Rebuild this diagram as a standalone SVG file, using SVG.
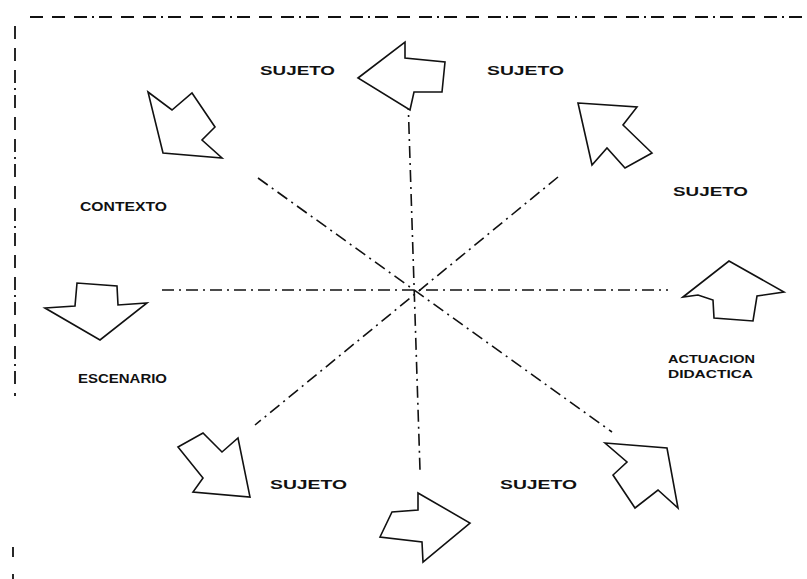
<svg xmlns="http://www.w3.org/2000/svg" width="807" height="579" viewBox="0 0 807 579">
<style>
.frame{fill:none;stroke:#111;stroke-width:1.8;stroke-dasharray:13 9 13 9 13 5 2 5}
.axis{fill:none;stroke:#111;stroke-width:1.6;stroke-dasharray:12 5 2 5}
.arrow{fill:#fff;stroke:#111;stroke-width:1.6;stroke-linejoin:miter}
.lbl{font-family:"Liberation Sans",Arial,sans-serif;font-size:13px;fill:#111;font-weight:bold}
.sm{font-family:"Liberation Sans",Arial,sans-serif;font-size:11px;fill:#111;font-weight:bold}
</style>
<rect width="807" height="579" fill="#fff"/>
<g id="frame">
<line class="frame" x1="30" y1="17" x2="807" y2="17"/>
<line class="frame" x1="15" y1="26" x2="15" y2="396"/>
<line class="frame" x1="13" y1="547" x2="13" y2="557"/>
<line class="frame" x1="13" y1="574" x2="13" y2="579"/>
</g>
<g id="connectors">
<line class="axis" x1="162" y1="290" x2="668" y2="290"/>
<line class="axis" x1="408" y1="98" x2="420" y2="470"/>
<line class="axis" x1="258" y1="178" x2="612" y2="432"/>
<line class="axis" x1="558" y1="177" x2="255" y2="425"/>
</g>
<g id="arrow-top"><polygon class="arrow" points="358,78 405,42 405,58 445,62 442,92 414,92 410,110"/></g>
<g id="arrow-topleft"><polygon class="arrow" points="148,92 172,110 192,93 215,127 202,140 222,158 163,153"/></g>
<g id="arrow-topright"><polygon class="arrow" points="578,103 637,107 623,125 652,153 625,168 607,148 592,165"/></g>
<g id="arrow-left"><polygon class="arrow" points="45,308 75,306 77,283 117,286 118,305 147,303 100,340"/></g>
<g id="arrow-right"><polygon class="arrow" points="683,297 729,261 784,292 757,296 753,321 714,318 713,300 698,295"/></g>
<g id="arrow-bottomleft"><polygon class="arrow" points="178,447 203,433 222,452 238,438 250,497 193,492 203,478"/></g>
<g id="arrow-bottom"><polygon class="arrow" points="418,493 470,523 423,562 422,542 380,537 392,512 418,510"/></g>
<g id="arrow-bottomright"><polygon class="arrow" points="605,443 667,448 678,508 658,490 635,508 613,475 627,462"/></g>
<g id="label-sujeto-1"><text class="lbl" x="260" y="75" textLength="75" lengthAdjust="spacingAndGlyphs">SUJETO</text></g>
<g id="label-sujeto-2"><text class="lbl" x="487" y="75" textLength="77" lengthAdjust="spacingAndGlyphs">SUJETO</text></g>
<g id="label-sujeto-3"><text class="lbl" x="673" y="196" textLength="75" lengthAdjust="spacingAndGlyphs">SUJETO</text></g>
<g id="label-contexto"><text class="lbl" x="80" y="211" font-size="12" textLength="87" lengthAdjust="spacingAndGlyphs">CONTEXTO</text></g>
<g id="label-escenario"><text class="lbl" x="78" y="383" font-size="12" textLength="89" lengthAdjust="spacingAndGlyphs">ESCENARIO</text></g>
<g id="label-actuacion"><text class="sm" x="668" y="363" textLength="87" lengthAdjust="spacingAndGlyphs">ACTUACION</text><text class="sm" x="668" y="378" textLength="85" lengthAdjust="spacingAndGlyphs">DIDACTICA</text></g>
<g id="label-sujeto-4"><text class="lbl" x="270" y="489" textLength="77" lengthAdjust="spacingAndGlyphs">SUJETO</text></g>
<g id="label-sujeto-5"><text class="lbl" x="500" y="489" textLength="77" lengthAdjust="spacingAndGlyphs">SUJETO</text></g>
</svg>
